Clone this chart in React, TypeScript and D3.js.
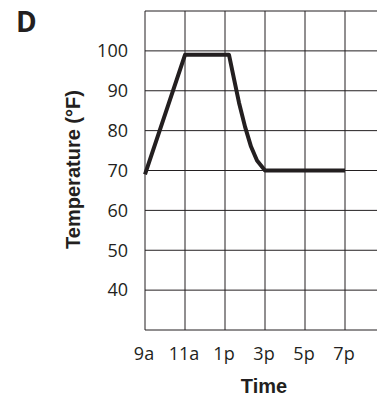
import React from "react";
import * as d3 from "d3";

const hours = [9, 11, 13.2, 13.45, 13.7, 14.0, 14.3, 14.6, 15, 19];
const temps = [69, 99, 99, 93, 87, 81, 76, 72.5, 70, 70];
const xTickHours = [9, 11, 13, 15, 17, 19];
const xTickLabels = ["9a", "11a", "1p", "3p", "5p", "7p"];
const yTicks = [40, 50, 60, 70, 80, 90, 100];
const gridX = [9, 11, 13, 15, 17, 19, 21];
const gridY = [30, 40, 50, 60, 70, 80, 90, 100, 110];

const W = 377;
const H = 399;
const left = 145;
const right = 385;
const top = 11;
const bottom = 330;

export default function App() {
  const x = d3.scaleLinear().domain([9, 21]).range([left, right]);
  const y = d3.scaleLinear().domain([30, 110]).range([bottom, top]);
  const pts = hours.map((h, i) => [h, temps[i]] as [number, number]);
  const line = d3
    .line<[number, number]>()
    .x((d) => x(d[0]))
    .y((d) => y(d[1]))
    .curve(d3.curveLinear);
  const labelFont = "'Open Sans', sans-serif";
  const titleFont = "'Liberation Sans Narrow', 'Arial Narrow', sans-serif";
  return (
    <svg
      width={W}
      height={H}
      style={{ position: "absolute", left: 0, top: 0, background: "#fff" }}
    >
      <rect x={0} y={0} width={W} height={H} fill="#fff" />
      <text
        x={16}
        y={32}
        fontFamily={labelFont}
        fontWeight={700}
        fontSize={28}
        fill="#231f20"
      >
        D
      </text>
      <g stroke="#231f20" strokeWidth={1}>
        {gridX.map((h) => (
          <line key={"gx" + h} x1={x(h)} x2={x(h)} y1={y(110)} y2={y(30)} />
        ))}
        {gridY.map((t) => (
          <line key={"gy" + t} x1={x(9)} x2={x(21)} y1={y(t)} y2={y(t)} />
        ))}
      </g>
      <path
        d={line(pts) || ""}
        fill="none"
        stroke="#231f20"
        strokeWidth={4}
        strokeLinejoin="round"
      />
      {yTicks.map((t) => (
        <text
          key={"yt" + t}
          x={128}
          y={y(t)}
          dy="0.35em"
          textAnchor="end"
          fontFamily={labelFont}
          fontSize={18}
          fill="#231f20"
        >
          {t}
        </text>
      ))}
      {xTickHours.map((h, i) => (
        <text
          key={"xt" + h}
          x={x(h) - 1}
          y={360}
          textAnchor="middle"
          fontFamily={labelFont}
          fontSize={18}
          fill="#231f20"
        >
          {xTickLabels[i]}
        </text>
      ))}
      <text
        x={264}
        y={393}
        textAnchor="middle"
        fontFamily={titleFont}
        fontWeight={700}
        fontSize={20}
        fill="#231f20"
      >
        Time
      </text>
      <text
        transform={`translate(80, ${(top + bottom) / 2 - 1}) rotate(-90)`}
        textAnchor="middle"
        fontFamily={titleFont}
        fontWeight={700}
        fontSize={20}
        fill="#231f20"
      >
        Temperature (°F)
      </text>
    </svg>
  );
}
